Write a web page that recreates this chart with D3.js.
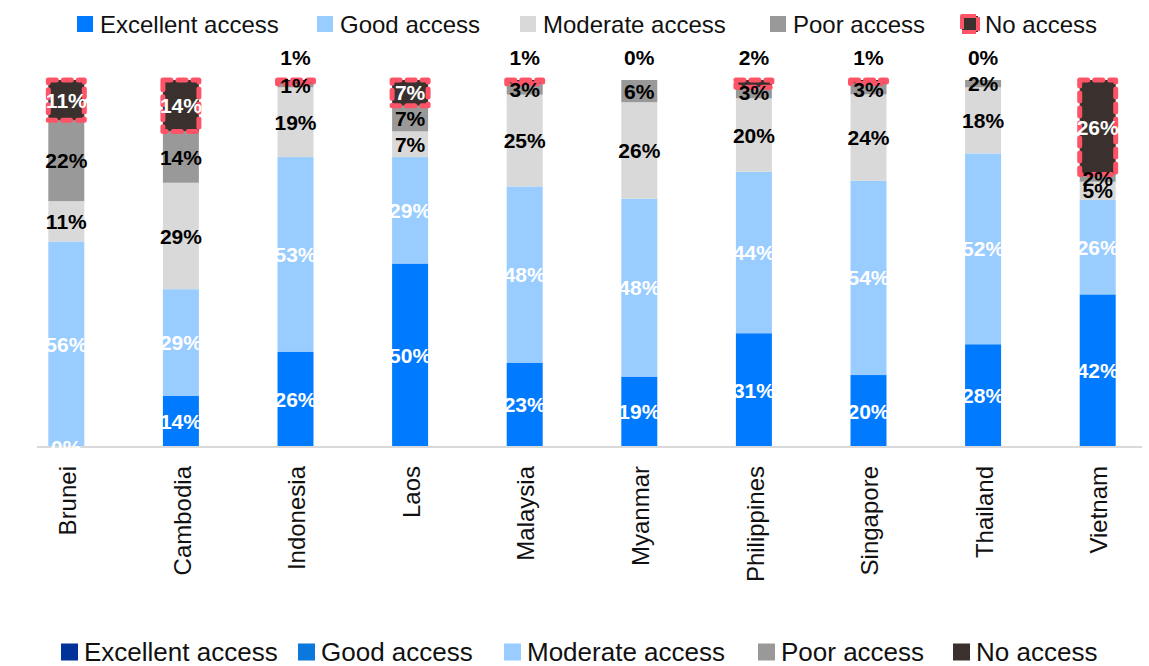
<!DOCTYPE html>
<html>
<head>
<meta charset="utf-8">
<script src="https://cdn.jsdelivr.net/npm/d3@7"></script>
<style>
  html, body { margin: 0; padding: 0; background: #fff; }
  svg { display: block; font-family: "Liberation Sans", Arial, sans-serif; }
</style>
</head>
<body>
<svg id="chart" width="1149" height="666"></svg>
<script>
// Access levels by country (percent of respondents)
const categories = ["Brunei", "Cambodia", "Indonesia", "Laos", "Malaysia", "Myanmar", "Philippines", "Singapore", "Thailand", "Vietnam"];
const excellent = [0, 14, 26, 50, 23, 19, 31, 20, 28, 42];
const good      = [56, 29, 53, 29, 48, 48, 44, 54, 52, 26];
const moderate  = [11, 29, 19, 7, 25, 26, 20, 24, 18, 5];
const poor      = [22, 14, 1, 7, 3, 6, 3, 3, 2, 2];
const noAccess  = [11, 14, 1, 7, 1, 0, 2, 1, 0, 26];
const seriesNames = ["Excellent access", "Good access", "Moderate access", "Poor access", "No access"];

const barColors    = ["#007AFF", "#99CCFF", "#D9D9D9", "#999999", "#3A302E"];
const labelColors  = ["#fff", "#fff", "#000", "#000", "#fff"];
const footerColors = ["#00339A", "#0A78DC", "#99CCFF", "#999999", "#3A302E"];
const highlight = "#FF5468";

const keys = ["excellent", "good", "moderate", "poor", "noAccess"];
const rows = categories.map((c, i) => ({
  country: c,
  excellent: excellent[i], good: good[i], moderate: moderate[i], poor: poor[i], noAccess: noAccess[i]
}));

const stacked = d3.stack().keys(keys).offset(d3.stackOffsetExpand)(rows);

const svg = d3.select("#chart");
const x = d3.scaleBand().domain(categories).range([9, 1155]).paddingInner(0.686).paddingOuter(0.343);
const y = d3.scaleLinear().domain([0, 1]).range([447, 80]);

// stacked segments
const layers = svg.append("g").selectAll("g").data(stacked).join("g")
  .attr("fill", (d, i) => barColors[i]);

layers.selectAll("rect").data(d => d).join("rect")
  .attr("x", d => x(d.data.country))
  .attr("width", x.bandwidth())
  .attr("y", d => y(d[1]))
  .attr("height", d => Math.max(0, y(d[0]) - y(d[1])));

// dashed outline on the "no access" segments
const last = stacked[stacked.length - 1];
svg.append("g").selectAll("rect").data(last.filter(d => d.data.noAccess > 0)).join("rect")
  .attr("x", d => x(d.data.country))
  .attr("width", x.bandwidth())
  .attr("y", d => y(d[1]))
  .attr("height", d => y(d[0]) - y(d[1]))
  .attr("fill", "none")
  .attr("stroke", highlight)
  .attr("stroke-width", 5)
  .attr("stroke-linecap", "round")
  .attr("stroke-linejoin", "round")
  .attr("stroke-dasharray", "8,7");

// baseline
svg.append("line")
  .attr("x1", 37).attr("x2", 1142)
  .attr("y1", y(0)).attr("y2", y(0))
  .attr("stroke", "#D9D9D9").attr("stroke-width", 2);

// value labels
const labels = svg.append("g")
  .attr("font-size", 21).attr("font-weight", 700)
  .attr("text-anchor", "middle");
stacked.forEach((layer, li) => {
  labels.selectAll(null).data(layer).join("text")
    .attr("x", d => x(d.data.country) + x.bandwidth() / 2)
    .attr("y", d => {
      const v = d.data[layer.key];
      if (layer.key === "noAccess" && v < 5) return y(1) - 23;
      return (y(d[0]) + y(d[1])) / 2;
    })
    .attr("dy", "0.36em")
    .attr("fill", d => (layer.key === "noAccess" && d.data.noAccess < 5) ? "#000" : labelColors[li])
    .text(d => d.data[layer.key] + "%");
});

// category labels
svg.append("g").selectAll("text").data(categories).join("text")
  .attr("transform", d => `translate(${x(d) + x.bandwidth() / 2 + 1},466) rotate(-90)`)
  .attr("text-anchor", "end")
  .attr("dy", "0.36em")
  .attr("font-size", 24)
  .attr("fill", "#111")
  .text(d => d);

// legend builder: swatch positions given per item
function legend(yc, starts, size, fontSize, gapText, colors, flagLast) {
  const g = svg.append("g");
  seriesNames.forEach((name, i) => {
    const cx = starts[i];
    const sw = g.append("rect")
      .attr("x", cx).attr("y", yc - size / 2)
      .attr("width", size).attr("height", size)
      .attr("fill", colors[i]);
    if (flagLast && i === seriesNames.length - 1) {
      sw.attr("stroke", highlight).attr("stroke-width", 4)
        .attr("stroke-dasharray", "14,3").attr("stroke-linejoin", "round");
    }
    g.append("text")
      .attr("x", cx + size + gapText).attr("y", yc)
      .attr("dy", "0.36em")
      .attr("font-size", fontSize)
      .attr("fill", "#111")
      .text(name);
  });
}
legend(24, [77, 317, 520, 770, 962], 16, 24, 7, barColors, true);
legend(652, [61, 298, 504, 758, 953], 17, 26, 6, footerColors, false);
</script>
</body>
</html>
